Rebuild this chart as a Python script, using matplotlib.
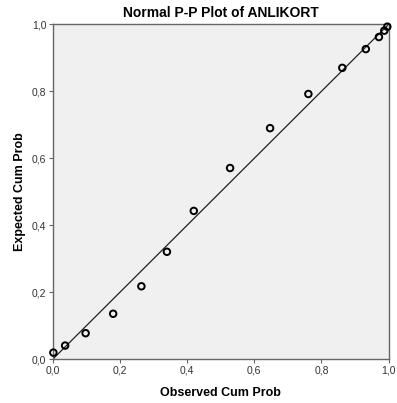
import matplotlib
matplotlib.use("Agg")
import matplotlib.pyplot as plt
from matplotlib.ticker import FuncFormatter

plt.rcParams['font.family'] = ['Liberation Sans', 'DejaVu Sans']

observed = [0.002, 0.037, 0.098, 0.180, 0.264, 0.340, 0.420, 0.528, 0.647,
            0.761, 0.862, 0.932, 0.971, 0.987, 0.996]
expected = [0.020, 0.041, 0.078, 0.136, 0.218, 0.321, 0.443, 0.571, 0.690,
            0.792, 0.870, 0.926, 0.962, 0.981, 0.993]
ticks = [0.0, 0.2, 0.4, 0.6, 0.8, 1.0]

fig = plt.figure(figsize=(3.97, 4.03), dpi=100)
ax = fig.add_axes([0.1327, 0.1084, 0.8463, 0.8313])
ax.set_facecolor("#f0f0f0")
ax.plot([0, 1], [0, 1], color="#222222", lw=0.9, zorder=2)
ax.scatter(observed, expected, s=22, facecolors="none", edgecolors="black",
           linewidths=1.4, zorder=3, clip_on=False)
ax.set_xlim(0, 1)
ax.set_ylim(0, 1)
ax.set_xticks(ticks)
ax.set_yticks(ticks)
fmt = FuncFormatter(lambda v, p: f"{v:.1f}".replace(".", ","))
ax.xaxis.set_major_formatter(fmt)
ax.yaxis.set_major_formatter(fmt)
for s in ax.spines.values():
    s.set_color("#666666")
    s.set_linewidth(1.0)
ax.tick_params(direction="out", length=3, width=0.8, color="#666666",
               labelsize=7.5, labelcolor="#333333", pad=1.5)
ax.set_xlabel("Observed Cum Prob", fontsize=9, fontweight="bold", labelpad=8)
ax.set_ylabel("Expected Cum Prob", fontsize=9, fontweight="bold", labelpad=4)
ax.set_title("Normal P-P Plot of ANLIKORT", fontsize=10, fontweight="bold", pad=5)
fig.savefig("out.png", dpi=100)
